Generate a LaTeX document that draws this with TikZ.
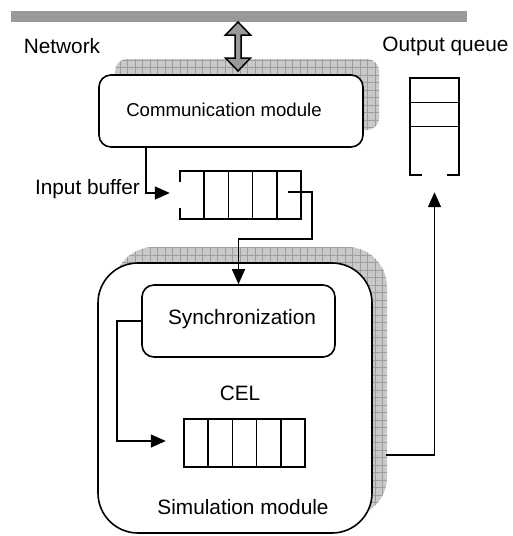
\documentclass[tikz,border=0pt]{standalone}
\usepackage{fontspec}
\setmainfont{Liberation Sans}
\usetikzlibrary{arrows.meta, calc, positioning}
\definecolor{netbar}{gray}{0.60}
\definecolor{shadebase}{gray}{0.79}
\definecolor{shadeline}{gray}{0.62}

\tikzset{
  module/.style={draw, fill=white, line width=1.6pt, rounded corners=12pt, inner sep=0pt},
  queue/.style={minimum width=121pt, minimum height=48pt, inner sep=0pt},
  flow/.style={line width=1.5pt, -{Triangle[length=15pt,width=13pt]}},
  txt/.style={font=\fontsize{20.8}{24}\selectfont, inner sep=0pt},
}

\begin{document}
\begin{tikzpicture}[x=1pt, y=-1pt]
			\useasboundingbox (0,0) rectangle (512,536);

			% network bar
			\fill[netbar] (11,11) rectangle (467,22);
			\node[txt] (netlbl) at (62,46) {Network};

			% hatched shadows behind the two modules
			\begin{scope}
				\clip[rounded corners=12pt] (115,59) rectangle (379,130);
				\fill[shadebase] (100,50) rectangle (400,140);
				\draw[shadeline, line width=0.8pt, step=7.5pt] (100,50) grid (400,140);
			\end{scope}
			\begin{scope}
				\clip[rounded corners=40pt] (114,247) rectangle (387,517);
				\fill[shadebase] (100,240) rectangle (400,530);
				\draw[shadeline, line width=0.8pt, step=7.5pt] (100,240) grid (400,530);
			\end{scope}

			% link between network and communication module
			\coordinate (lt) at (238,22);
			\coordinate (lb) at (238,71);
			\draw[fill=netbar, line width=1.5pt, line join=miter]
				(lt) -- ++(12.5,13) -- ++(-9.5,0) -- ++(0,23) -- ++(9.5,0) -- (lb)
				-- ++(-12.5,-13) -- ++(9.5,0) -- ++(0,-23) -- ++(-9.5,0) -- cycle;

			\node[module, minimum width=264pt, minimum height=72pt] (comm) at (231,111) {};
			\node[txt, font=\fontsize{18.6}{22}\selectfont] (commlbl) at (224,110) {Communication module};

			% output queue, open at the bottom
			\node[minimum width=49pt, minimum height=97pt, inner sep=0pt] (outq) at (434.5,126.5) {};
			\node[txt] (outlbl) at (445.5,46) {Output queue};
			\draw[line width=1.6pt] ([xshift=12pt]outq.south west) -- (outq.south west) -- (outq.north west)
				-- (outq.north east) -- (outq.south east) -- ([xshift=-12pt]outq.south east);
			\draw[line width=1.6pt] ([yshift=-24.5pt]outq.north west) -- ([yshift=-24.5pt]outq.north east);
			\draw[line width=1.6pt] ([yshift=-48.5pt]outq.north west) -- ([yshift=-48.5pt]outq.north east);

			% input buffer, open on the left
			\node[queue] (inbuf) at (240.5,195) {};
			\draw[line width=1.6pt] ([yshift=-11pt]inbuf.north west) -- (inbuf.north west) -- (inbuf.north east)
				-- (inbuf.south east) -- (inbuf.south west) -- ([yshift=11pt]inbuf.south west);
			\foreach \i in {1,...,4}
				\draw[line width=1.6pt] ($(inbuf.north west)!\i/5!(inbuf.north east)$) -- ($(inbuf.south west)!\i/5!(inbuf.south east)$);
			\node[txt] (inlbl) at (87.5,189) {Input buffer};

			% simulation module
			\node[module, rounded corners=40pt, minimum width=274pt, minimum height=270pt] (sim) at (235,398) {};
			\node[txt] (simlbl) at (243,507) {Simulation module};
			\node[module, minimum width=193pt, minimum height=72pt] (sync) at (238.5,321) {};
			\node[txt] (synclbl) at (242,319) {Synchronization};

			% current event list
			\node[queue] (cel) at (244.5,443) {};
			\draw[line width=1.6pt] (cel.north west) rectangle (cel.south east);
			\foreach \i in {1,...,4}
				\draw[line width=1.6pt] ($(cel.north west)!\i/5!(cel.north east)$) -- ($(cel.south west)!\i/5!(cel.south east)$);
			\node[txt] (cellbl) at (240,393) {CEL};

			% message flow
			\draw[flow, shorten >=10pt] ([xshift=-85pt]comm.south) |- ([yshift=2pt]inbuf.west);
			\draw[flow] ([xshift=-13pt, yshift=3pt]inbuf.east) -| ([xshift=11pt, yshift=-44pt]inbuf.east) -| (sync.north);
			\draw[flow, shorten >=18pt] (sync.west) -- ++(-24,0) |- ([yshift=2pt]cel.west);
			\draw[flow, shorten >=17pt] ([xshift=13pt, yshift=-57pt]sim.east) -| (outq.south);
		\end{tikzpicture}
\end{document}
